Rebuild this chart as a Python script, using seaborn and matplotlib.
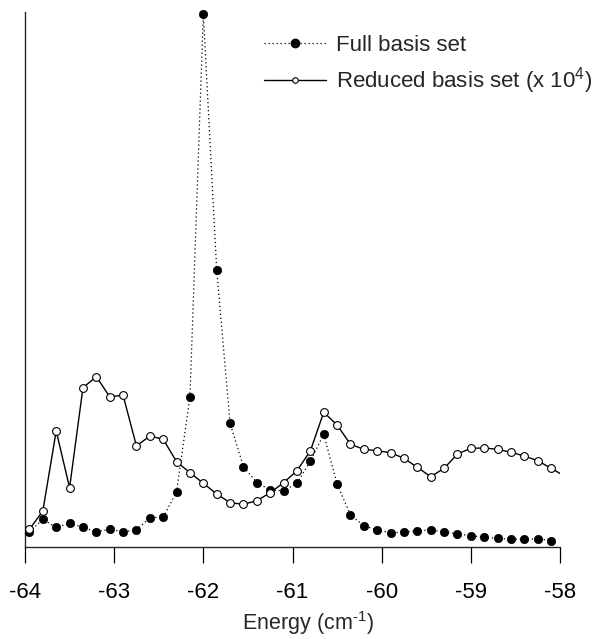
import matplotlib
matplotlib.use("Agg")
import matplotlib.pyplot as plt
from matplotlib.lines import Line2D
import seaborn as sns

# Energy grid (cm^-1) of the computed spectrum
energy = [-63.95, -63.80, -63.65, -63.50, -63.35, -63.20, -63.05, -62.90,
          -62.75, -62.60, -62.45, -62.30, -62.15, -62.00, -61.85, -61.70,
          -61.55, -61.40, -61.25, -61.10, -60.95, -60.80, -60.65, -60.50,
          -60.35, -60.20, -60.05, -59.90, -59.75, -59.60, -59.45, -59.30,
          -59.15, -59.00, -58.85, -58.70, -58.55, -58.40, -58.25, -58.10]
# the reduced-basis curve carries one more sample just past the plotted range
energy_reduced = energy + [-57.95]

# Intensities (arbitrary units)
full_basis = [1.53, 2.77, 1.97, 2.37, 1.97, 1.53, 1.77, 1.53, 1.70, 2.93,
              2.97, 5.53, 15.03, 53.3, 27.7, 12.37, 8.03, 6.43, 5.70, 5.63,
              6.37, 8.60, 11.27, 6.30, 3.20, 2.13, 1.70, 1.43, 1.47, 1.63,
              1.70, 1.50, 1.30, 1.13, 0.97, 0.87, 0.77, 0.77, 0.83, 0.63]
reduced_basis = [1.77, 3.60, 11.60, 5.93, 15.93, 17.03, 15.03, 15.17, 10.10,
                 11.10, 10.77, 8.53, 7.43, 6.37, 5.30, 4.43, 4.27, 4.63, 5.43,
                 6.43, 7.63, 9.60, 13.47, 12.20, 10.27, 9.77, 9.63, 9.43, 8.87,
                 7.97, 7.03, 7.87, 9.30, 9.87, 9.90, 9.77, 9.47, 9.10, 8.63,
                 7.87, 7.10]

xticks = [-64, -63, -62, -61, -60, -59, -58]
xtick_labels = ["-64", "-63", "-62", "-61", "-60", "-59", "-58"]
label_full = "Full basis set"
label_reduced = "Reduced basis set (x 10$^4$)"
xlabel = "Energy (cm$^{\\text{-1}}$)"

sns.set_style("ticks")
plt.rcParams["font.family"] = ["Liberation Sans", "DejaVu Sans"]
plt.rcParams["mathtext.fontset"] = "custom"
plt.rcParams["mathtext.rm"] = "Liberation Sans"
plt.rcParams["mathtext.it"] = "Liberation Sans:italic"

fig = plt.figure(figsize=(5.94, 6.39), dpi=100)
ax = fig.add_axes([25 / 594, 1 - 547 / 639, 535 / 594, 547 / 639])

dotted = (0, (1.0, 2.2))

sns.lineplot(x=energy, y=full_basis, ax=ax, color="black", linewidth=0.9,
             linestyle=dotted, marker="o", markersize=6.0,
             markerfacecolor="black", markeredgecolor="black",
             markeredgewidth=0.5, sort=False, errorbar=None, zorder=3)
sns.lineplot(x=energy_reduced, y=reduced_basis, ax=ax, color="black",
             linewidth=1.0, linestyle="-", marker="o", markersize=5.6,
             markerfacecolor="white", markeredgecolor="black",
             markeredgewidth=0.8, markevery=list(range(len(energy))),
             sort=False, errorbar=None, zorder=4)

ax.set_xlim(-64, -58)
ax.set_ylim(0, 54.7)
ax.spines["top"].set_visible(False)
ax.spines["right"].set_visible(False)
ax.spines["left"].set_bounds(0, 53.5)
ax.spines["left"].set_linewidth(1.0)
ax.spines["bottom"].set_linewidth(1.0)

ax.set_xticks(xticks)
ax.set_xticklabels(xtick_labels)
ax.tick_params(axis="x", direction="out", length=11.5, width=0.9,
               pad=14, labelsize=16, colors="black")
ax.tick_params(axis="y", left=False, labelleft=False)
ax.set_xlabel(xlabel, fontsize=15.5)
ax.xaxis.set_label_coords((308 - 25) / 535, -62 / 547)
ax.set_ylabel("")

handles = [
    Line2D([], [], color="black", linewidth=0.9, linestyle=dotted,
           marker="o", markersize=6.0, markerfacecolor="black",
           markeredgecolor="black"),
    Line2D([], [], color="black", linewidth=1.0, linestyle="-",
           marker="o", markersize=4.0, markerfacecolor="white",
           markeredgecolor="black", markeredgewidth=0.8),
]
ax.legend(handles, [label_full, label_reduced], loc="upper left",
          bbox_to_anchor=(264 / 594, 1 - 35 / 639),
          bbox_transform=fig.transFigure, frameon=False, fontsize=16,
          handlelength=2.8, handletextpad=0.45, labelspacing=0.42,
          borderpad=0.0, borderaxespad=0.0)

fig.savefig("out.png", dpi=100)
